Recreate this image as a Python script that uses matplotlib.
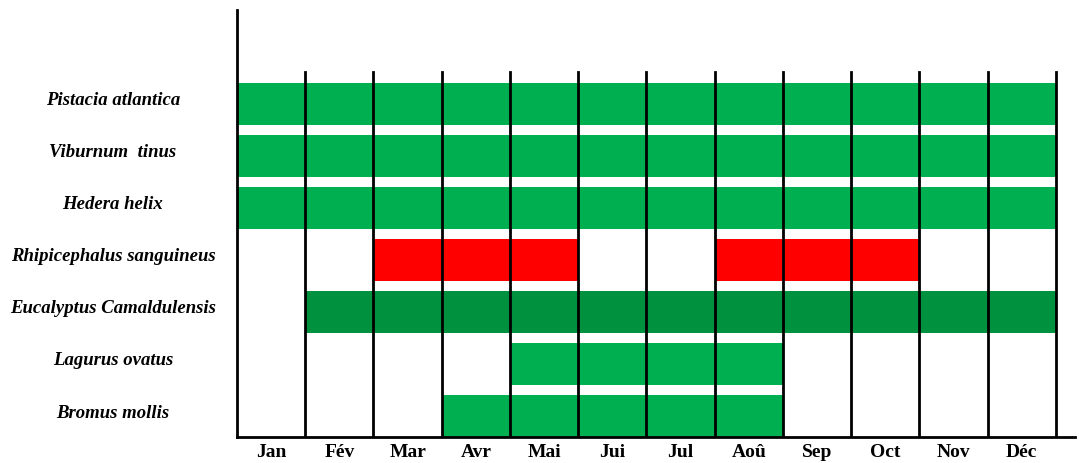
import matplotlib
matplotlib.use('Agg')
import matplotlib.pyplot as plt
from matplotlib.transforms import blended_transform_factory

months = ['Jan', 'Fév', 'Mar', 'Avr', 'Mai', 'Jui', 'Jul', 'Aoû', 'Sep', 'Oct', 'Nov', 'Déc']

# top to bottom
species = ['Pistacia atlantica', 'Viburnum  tinus', 'Hedera helix',
           'Rhipicephalus sanguineus', 'Eucalyptus Camaldulensis',
           'Lagurus ovatus', 'Bromus mollis']

# (first month index, number of months) for each species
periods = [
    [(0, 12)],
    [(0, 12)],
    [(0, 12)],
    [(2, 3), (7, 3)],
    [(1, 11)],
    [(4, 4)],
    [(3, 5)],
]
colors = ['#00b050', '#00b050', '#00b050', '#ff0000', '#00913f', '#00b050', '#00b050']

plt.rcParams['font.family'] = 'Liberation Serif'

fig = plt.figure(figsize=(10.79, 4.63), dpi=100)
ax = fig.add_axes([237 / 1079, 26 / 463, (1075 - 237) / 1079, (453 - 26) / 463])

# x in figure coords, y in data coords
label_tr = blended_transform_factory(fig.transFigure, ax.transData)

n = len(species)
for i, name in enumerate(species):
    y = n - 1 - i
    ax.broken_barh(periods[i], (y - 0.4, 0.8), facecolors=colors[i], zorder=1)
    ax.text(113 / 1079, y + 0.06, name, ha='center', va='center',
            fontsize=13.5, fontweight='bold', fontstyle='italic',
            transform=label_tr)

# month separators
for m in range(1, 13):
    ax.plot([m, m], [-0.4, 6.6], color='black', lw=2, zorder=3)

ax.set_xlim(0, 12.28)
ax.set_ylim(-0.4, 7.8)

ax.spines['top'].set_visible(False)
ax.spines['right'].set_visible(False)
ax.spines['left'].set_linewidth(2)
ax.spines['bottom'].set_linewidth(2)
ax.set_yticks([])
ax.set_xticks([m + 0.5 for m in range(12)])
ax.set_xticklabels(months, fontsize=14, fontweight='bold')
ax.tick_params(axis='x', length=0, pad=5)

fig.savefig('out.png', dpi=100)
